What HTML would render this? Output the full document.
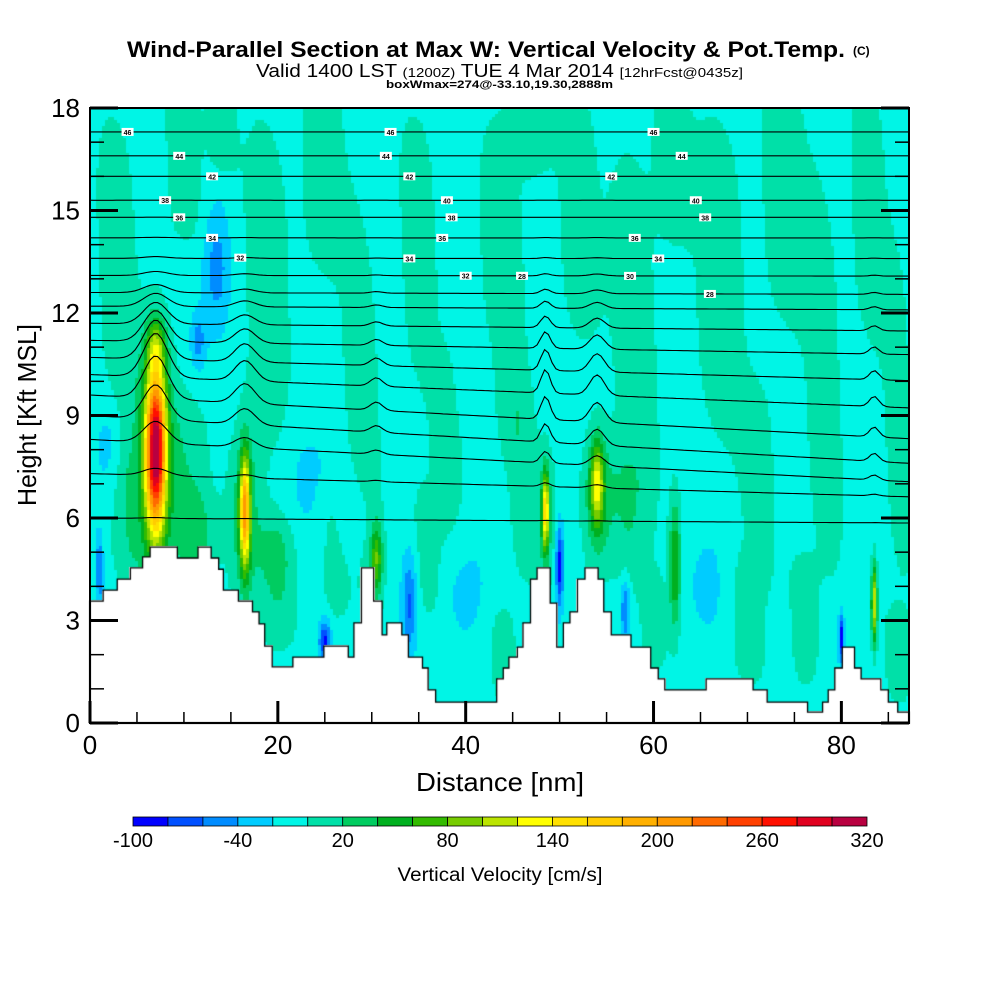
<!DOCTYPE html>
<html><head><meta charset="utf-8"><style>
html,body{margin:0;padding:0;background:#fff;width:1000px;height:1000px;overflow:hidden;font-family:"Liberation Sans",Arial,sans-serif}
#wrap{position:relative;width:1000px;height:1000px}
canvas{position:absolute;left:0;top:0}
svg{position:absolute;left:0;top:0}
</style></head><body>
<div id="wrap">
<canvas id="field" width="1000" height="1000"></canvas>
<svg id="ov" width="1000" height="1000">
<text x="127" y="57" textLength="718" lengthAdjust="spacingAndGlyphs" font-size="22" font-weight="bold">Wind-Parallel Section at Max W: Vertical Velocity &amp; Pot.Temp.</text>
<text x="853" y="55" font-size="12" font-weight="bold">(C)</text>
<text x="256" y="77" textLength="487" lengthAdjust="spacingAndGlyphs" font-size="18">Valid 1400 LST <tspan font-size="13">(1200Z)</tspan> TUE 4 Mar 2014 <tspan font-size="13">[12hrFcst@0435z]</tspan></text>
<text x="386" y="88" textLength="227" lengthAdjust="spacingAndGlyphs" font-size="11" font-weight="bold">boxWmax=274@-33.10,19.30,2888m</text>
<text x="500" y="791" text-anchor="middle" font-size="26" textLength="168" lengthAdjust="spacingAndGlyphs">Distance [nm]</text>
<text transform="translate(36,415) rotate(-90)" text-anchor="middle" font-size="26" textLength="182" lengthAdjust="spacingAndGlyphs">Height [Kft MSL]</text>
<g id="axes"></g>
<g id="cbar"></g>
<text x="500" y="881" text-anchor="middle" font-size="19" textLength="205" lengthAdjust="spacingAndGlyphs">Vertical Velocity [cm/s]</text>
</svg>
</div>
<script>
// ---- data ----
const xTicks=[0,20,40,60,80];
const yTicks=[0,3,6,9,12,15,18];
const cbLevels=[-100,-80,-60,-40,-20,0,20,40,60,80,100,120,140,160,180,200,220,240,260,280,300,320];
const cbLabels=[-100,-40,20,80,140,200,260,320];
const cbColors=["#0000ff","#0050ff","#008cff","#00ccff","#00f5e6","#00e0a8","#00cc60","#00b020","#33bb00","#77cc00","#bbe400","#ffff00","#ffe000","#ffcc00","#ffb000","#ff9900","#ff6a00","#ff4000","#ff1000","#e00020","#b80040"];
// terrain steps: [start nm, height kft]
const terrain=[[0,3.57],[1.4,3.89],[2.9,4.21],[4.3,4.54],[5.6,4.86],[6.4,5.15],[9.3,4.83],[11.5,5.15],[12.9,4.83],[13.7,4.5],[14.2,3.89],[15.8,3.57],[17.3,3.25],[18.0,2.9],[18.6,2.25],[19.4,1.64],[21.6,1.93],[24.9,2.25],[26.7,2.25],[27.5,1.93],[28.1,2.93],[28.9,4.54],[30.2,3.57],[31.1,2.58],[31.6,2.93],[33.2,2.58],[33.9,1.93],[35.4,1.61],[36.0,0.97],[36.8,0.61],[43.3,1.29],[44.0,1.61],[44.6,1.93],[45.5,2.22],[46.1,2.93],[46.9,4.21],[47.6,4.54],[49.0,3.51],[49.7,2.22],[50.4,2.93],[51.1,3.25],[51.9,4.21],[52.7,4.54],[54.1,4.21],[54.7,3.25],[55.5,2.58],[57.6,2.22],[59.7,1.61],[60.5,1.29],[61.2,0.97],[65.6,1.29],[70.6,0.97],[72.1,0.61],[76.4,0.32],[78.0,0.61],[78.6,0.97],[79.3,1.61],[80.1,2.22],[81.4,1.61],[82.1,1.29],[84.2,0.97],[85.0,0.61],[86.0,0.32]];
// w blobs: [x nm, z kft, sx nm, sz kft, amplitude cm/s]
const wBlobs=[[7,8,1.1,2.4,300],[7,7.5,2.6,3.4,45],[16.5,6.2,0.55,1.6,190],[16.5,6,1.8,2.6,40],[48.5,6.2,0.35,1.1,150],[48.5,6,1.2,2,30],[54,7,0.7,1.2,110],[54,6.5,1.6,2,40],[62.3,4.6,0.6,1.8,75],[83.5,3.5,0.3,1.1,130],[30.5,4.8,0.6,1,80],[7,11,1,0.8,60],[1,4.5,0.4,1,-55],[13.5,13.3,1.4,1.8,-40],[11.5,11.2,0.8,0.8,-40],[25,2.4,0.6,0.6,-75],[34,3.5,0.8,1.4,-55],[40,4,3,2.2,-14],[22,7,4,2,-18],[28,6,2,1.2,-18],[50,4.6,0.4,1.2,-85],[57,3.3,0.5,1,-50],[80,2.5,0.3,0.7,-85],[66,4,3,2,-14],[2,8,1.5,1.5,-22],[41,10,2,1.5,-14],[11,5.5,2.5,1.2,25],[20,5,2,1.5,20]];
// light green streaks: [x nm, z center kft, sx nm, sz kft]
const streaks=[[3,13,2.2,5],[10,16.5,2,2.5],[19,12,2.5,6],[25,16,2.5,3],[29,9,2,6],[35,14,2,4],[38,8,2,3],[44,13,2.5,5],[46,7,1.5,3],[52,15,2.2,4],[58,11,2.5,6],[62,16.5,2,2.5],[67,13,2.8,5],[71,7,2,3],[74,15.5,2.5,4],[78,10,2,6],[83,15,2,4],[86,9,1.5,5],[14,17.5,1.5,1.5],[47,17.5,2,1.5],[70,3,2,2],[76,3,1.5,2],[26,5,1.5,2],[4,6,2,2],[11,7,2,2.5],[20,4,2,2],[36,5,1.5,2],[57,6,2,2],[44,2,1.5,1.5],[60,3,1.5,1.5],[86,2,1.5,1.5]];
const streakAmp=[22];
const bgW=[-10];
// potential temperature line base heights (kft)
const thetaLines=[17.3,16.6,16.0,15.3,14.8,14.2,13.6,13.1,12.6,12.2,11.7,11.2,10.7,10.2,9.6,9.0,8.3,7.3,6.0];
// line bumps near updrafts: [x nm, amplitude kft, width nm]
const bumps=[[7,1.3,1.8],[16.5,0.6,1.5],[48.5,0.7,0.7],[54,0.6,1.1],[83.5,0.3,0.7],[30.5,0.25,0.9]];
const thetaLabels=[[4,"46"],[32,"46"],[60,"46"],[9.5,"44"],[31.5,"44"],[63,"44"],[13,"42"],[34,"42"],[55.5,"42"],[38,"40"],[64.5,"40"],[8,"38"],[38.5,"38"],[65.5,"38"],[9.5,"36"],[37.5,"36"],[58,"36"],[13,"34"],[34,"34"],[60.5,"34"],[16,"32"],[40,"32"],[57.5,"30"],[46,"28"],[66,"28"]];

// ---- scales ----
const X0=90,X1=909,Y0=723,Y1=108,XMAX=87.2,YMAX=18;
const sx=v=>X0+(v/XMAX)*(X1-X0);
const sy=v=>Y0-(v/YMAX)*(Y0-Y1);
const ix=p=>(p-X0)/(X1-X0)*XMAX;
const iy=p=>(Y0-p)/(Y0-Y1)*YMAX;
function terrH(x){let h=terrain[0][1];for(const t of terrain){if(x>=t[0])h=t[1];}return h;}
function wAt(x,z){
  let w=bgW[0];
  for(const b of wBlobs){const dx=(x-b[0])/b[2],dz=(z-b[1])/b[3];const e=dx*dx+dz*dz;if(e<12)w+=b[4]*Math.exp(-e);}
  for(const s of streaks){const dx=(x-s[0]+0.15*(z-s[1]))/s[2],dz=(z-s[1])/s[3];const e=dx*dx+dz*dz*dz*dz;if(e<12)w+=streakAmp[0]*Math.exp(-e);}
  return w;
}
function colorFor(w){
  for(let i=0;i<cbColors.length;i++){if(w<cbLevels[i+1])return cbColors[i];}
  return cbColors[cbColors.length-1];
}
function lineZ(z0,x){
  let z=z0;
  const f=Math.exp(-Math.pow((z0-10)/2,2));
  for(const b of bumps){const d=(x-b[0])/b[2];z+=b[1]*f*Math.exp(-d*d);}
  z-=1.4*(x/XMAX)*Math.exp(-Math.pow((z0-9)/2,2));
  return z;
}

// ---- field ----
const ctx=document.getElementById('field').getContext('2d');
ctx.fillStyle="#fff";ctx.fillRect(0,0,1000,1000);
const B=3;
for(let py=Y1;py<Y0;py+=B){for(let px=X0;px<X1;px+=B){
  const x=ix(px+B/2),z=iy(py+B/2);
  if(z<terrH(x))continue;
  ctx.fillStyle=colorFor(wAt(x,z));ctx.fillRect(px,py,B,B);
}}
ctx.fillStyle="#fff";ctx.beginPath();ctx.moveTo(X0,Y0);
for(let i=0;i<terrain.length;i++){const t=terrain[i];const xe=i+1<terrain.length?terrain[i+1][0]:XMAX;ctx.lineTo(sx(t[0]),sy(t[1]));ctx.lineTo(sx(xe),sy(t[1]));}
ctx.lineTo(X1,Y0);ctx.closePath();ctx.fill();
ctx.strokeStyle="#000";ctx.lineWidth=1.3;ctx.stroke();

// ---- svg overlay ----
const NS="http://www.w3.org/2000/svg";
const axes=document.getElementById('axes');
function mk(tag,attrs,parent){const e=document.createElementNS(NS,tag);for(const k in attrs)e.setAttribute(k,attrs[k]);(parent||axes).appendChild(e);return e;}
thetaLines.forEach((z0,i)=>{
  let d="",pen=false;
  for(let x=0;x<=XMAX+0.01;x+=0.4){
    const z=lineZ(z0,x);
    if(z<terrH(x)||z>YMAX){pen=false;continue;}
    d+=(pen?"L":"M")+sx(x).toFixed(1)+","+sy(z).toFixed(1);pen=true;
  }
  const p=mk('path',{d:d,fill:"none",stroke:"#000","stroke-width":1.1});
  
  
});
thetaLabels.forEach((l,i)=>{
  const g=mk('g',{});
  
  
  const zl=thetaLines[Math.min(thetaLines.length-1,Math.floor(i/3))];
  const z=lineZ(zl,l[0]);
  mk('rect',{x:sx(l[0])-6,y:sy(z)-4,width:12,height:8,fill:"#fff"},g);
  mk('text',{x:sx(l[0]),y:sy(z)+3,"font-size":7,"font-weight":"bold","text-anchor":"middle"},g).textContent=l[1];
});
const fr=mk('rect',{x:X0,y:Y1,width:X1-X0,height:Y0-Y1,fill:"none",stroke:"#000","stroke-width":2});


for(let v=0;v<=XMAX;v+=5){
  const major=v%20===0,L=major?22:11;
  mk('line',{x1:sx(v),x2:sx(v),y1:Y0,y2:Y0-L,stroke:"#000","stroke-width":major?3:1.5});
}
xTicks.forEach(v=>{const t=mk('text',{x:sx(v),y:Y0+31,"font-size":26,"text-anchor":"middle"});t.textContent=v;
  
  });
for(let v=0;v<=YMAX;v+=1){
  const major=v%3===0,L=major?28:14;
  mk('line',{x1:X0,x2:X0+L,y1:sy(v),y2:sy(v),stroke:"#000","stroke-width":major?3:1.5});
  mk('line',{x1:X1,x2:X1-L,y1:sy(v),y2:sy(v),stroke:"#000","stroke-width":major?3:1.5});
}
yTicks.forEach(v=>{const t=mk('text',{x:X0-10,y:sy(v)+9,"font-size":26,"text-anchor":"end"});t.textContent=v;
  
  });
const cb=document.getElementById('cbar');
const CB0=133,CB1=867,CBY=817,CBH=9;
const cbx=v=>CB0+(v-cbLevels[0])/(cbLevels[cbLevels.length-1]-cbLevels[0])*(CB1-CB0);
cbColors.forEach((c,i)=>{const r=mk('rect',{x:cbx(cbLevels[i]),y:CBY,width:cbx(cbLevels[i+1])-cbx(cbLevels[i]),height:CBH,fill:c,stroke:"#000","stroke-width":0.8},cb);
  
  });
cbLabels.forEach(v=>{const t=mk('text',{x:cbx(v),y:847,"font-size":20,"text-anchor":"middle"},cb);t.textContent=v;
  
  });
</script>
</body></html>
